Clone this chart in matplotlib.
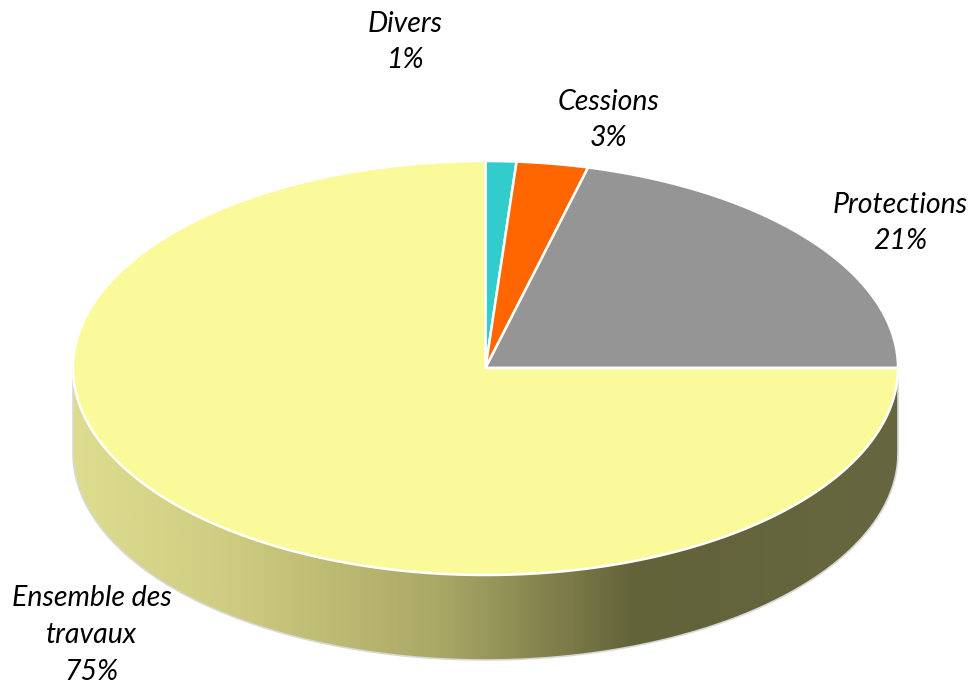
import numpy as np
import matplotlib.pyplot as plt
from matplotlib.patches import Polygon
from matplotlib.colors import LinearSegmentedColormap

# Données
categories = ['Divers', 'Cessions', 'Protections', 'Ensemble des\ntravaux']
values = [1.2, 2.8, 21.0, 75.0]
colors = ['#33cccc', '#ff6600', '#959595', '#fafa9a']

# position des étiquettes (centre du bloc de texte, en pixels)
label_pos = [(405, 42), (609, 120), (900, 223), (92, 635)]

# géométrie du camembert 3D (pixels)
cx, cy = 485.5, 368
rx, ry = 412.5, 207
depth = 85

fig = plt.figure(figsize=(9.74, 6.84), dpi=100)
ax = fig.add_axes([0, 0, 1, 1])
ax.set_xlim(0, 974)
ax.set_ylim(684, 0)
ax.axis('off')


def ellipse_pts(t0, t1, dy=0, n=200):
    t = np.radians(np.linspace(t0, t1, n))
    return np.column_stack([cx + rx * np.cos(t), cy - ry * np.sin(t) + dy])


# paroi latérale (partie avant visible, de 180° à 360°)
top_edge = ellipse_pts(180, 360)
bottom_edge = ellipse_pts(360, 180, dy=depth)
side = Polygon(np.vstack([top_edge, bottom_edge]), closed=True,
               facecolor='none', edgecolor='none')
ax.add_patch(side)

cmap = LinearSegmentedColormap.from_list(
    'side', [(0, '#dedc8f'), (0.2, '#cdcb7f'), (0.45, '#a9a765'),
             (0.68, '#63633a'), (1, '#666640')])
grad = np.linspace(0, 1, 500).reshape(1, -1)
img = ax.imshow(grad, cmap=cmap, aspect='auto',
                extent=(cx - rx, cx + rx, cy + ry + depth + 2, cy - 2),
                zorder=1)
img.set_clip_path(side)
ax.plot(bottom_edge[:, 0], bottom_edge[:, 1], color='#d8d8d8', lw=1.2, zorder=2)
ax.plot([cx - rx, cx - rx], [cy, cy + depth], color='#d8d8d8', lw=1.2, zorder=2)
ax.plot([cx + rx, cx + rx], [cy, cy + depth], color='#d8d8d8', lw=1.2, zorder=2)

# face supérieure
total = sum(values)
start = 90.0
for v, c in zip(values, colors):
    sweep = 360.0 * v / total
    arc = ellipse_pts(start, start - sweep)
    poly = Polygon(np.vstack([[cx, cy], arc]), closed=True, facecolor=c,
                   edgecolor='white', lw=1.8, joinstyle='round', zorder=3)
    ax.add_patch(poly)
    start -= sweep

# étiquettes
for name, v, (x, y) in zip(categories, values, label_pos):
    pct = round(100 * v / total)
    ax.text(x, y, f'{name}\n{pct}%', ha='center', va='center',
            fontsize=20.5, style='italic', family='Lato', linespacing=1.5,
            color='black', zorder=5)

fig.savefig('out.png', dpi=100)
